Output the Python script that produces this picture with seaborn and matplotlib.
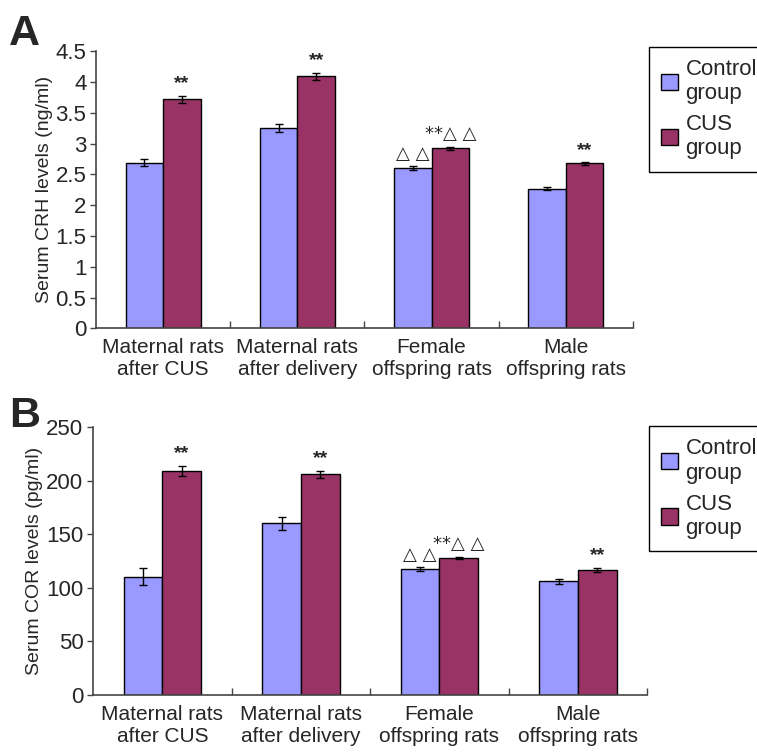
import numpy as np
import pandas as pd
import matplotlib
matplotlib.use("Agg")
import matplotlib.pyplot as plt
import seaborn as sns

sns.set_style("ticks")
plt.rcParams["font.family"] = ["Liberation Sans", "DejaVu Sans"]

categories = ["Maternal rats\nafter CUS", "Maternal rats\nafter delivery",
              "Female\noffspring rats", "Male\noffspring rats"]
groups = ["Control\ngroup", "CUS\ngroup"]

crh_control = [2.69, 3.25, 2.60, 2.27]
crh_cus = [3.72, 4.09, 2.92, 2.68]
crh_control_err = [0.06, 0.06, 0.03, 0.03]
crh_cus_err = [0.06, 0.06, 0.03, 0.02]
crh_control_note = ["", "", "\u25b3 \u25b3", ""]
crh_cus_note = ["**", "**", "**\u25b3 \u25b3", "**"]

cor_control = [110.5, 160.0, 117.6, 106.0]
cor_cus = [209.0, 205.7, 128.0, 116.7]
cor_control_err = [7.5, 6.0, 2.0, 2.5]
cor_cus_err = [5.0, 3.5, 1.0, 2.0]
cor_control_note = ["", "", "\u25b3 \u25b3", ""]
cor_cus_note = ["**", "**", "**\u25b3 \u25b3", "**"]

COLORS = ["#9999FF", "#993366"]


def panel(ax, ctrl, cus, ctrl_err, cus_err, ctrl_note, cus_note,
          ylim, yticks, ylabel):
    df = pd.DataFrame({
        "cat": categories * 2,
        "group": [groups[0]] * 4 + [groups[1]] * 4,
        "value": ctrl + cus,
    })
    sns.barplot(data=df, x="cat", y="value", hue="group", order=categories,
                hue_order=groups, palette=COLORS, width=0.56, gap=0,
                errorbar=None, edgecolor="black", linewidth=1.0, ax=ax,
                saturation=1)
    errs = ctrl_err + cus_err
    notes = ctrl_note + cus_note
    vals = ctrl + cus
    for p, v, e, n in zip(ax.patches[:8], vals, errs, notes):
        xc = p.get_x() + p.get_width() / 2
        ax.errorbar(xc, v, yerr=e, fmt="none", ecolor="black", elinewidth=1,
                    capsize=3, capthick=1)
        if n:
            ax.text(xc, v + e + (ylim[1] * 0.012), n, ha="center", va="bottom",
                    fontsize=14 if n == "**" else 13,
                    fontweight="bold" if n == "**" else "normal",
                    family=["DejaVu Sans"] if "\u25b3" in n else None)
    ax.set_xlim(-0.5, 3.5)
    ax.set_ylim(*ylim)
    ax.set_yticks(yticks)
    ax.set_yticklabels([f"{t:g}" for t in yticks], fontsize=16)
    ax.set_xlabel("")
    ax.set_ylabel(ylabel, fontsize=14, labelpad=2)
    ax.tick_params(axis="x", which="major", length=0, pad=7, labelsize=15)
    ax.set_xticks([0.5, 1.5, 2.5, 3.5], minor=True)
    ax.tick_params(axis="x", which="minor", direction="in", length=5,
                   width=1, color="#444444")
    ax.tick_params(axis="y", direction="out", length=4, width=1,
                   color="#444444", pad=3)
    sns.despine(ax=ax)
    for s in ("left", "bottom"):
        ax.spines[s].set_color("#444444")
        ax.spines[s].set_linewidth(1.2)
    ax.get_legend().remove()
    return ax


fig = plt.figure(figsize=(7.57, 7.53), dpi=100)
axA = fig.add_axes([0.127, 0.564, 0.709, 0.368])
axB = fig.add_axes([0.123, 0.077, 0.732, 0.356])

panel(axA, crh_control, crh_cus, crh_control_err, crh_cus_err,
      crh_control_note, crh_cus_note, (0, 4.5),
      [0, 0.5, 1, 1.5, 2, 2.5, 3, 3.5, 4, 4.5],
      "Serum CRH levels (ng/ml)")
panel(axB, cor_control, cor_cus, cor_control_err, cor_cus_err,
      cor_control_note, cor_cus_note, (0, 250),
      [0, 50, 100, 150, 200, 250],
      "Serum COR levels (pg/ml)")

fig.text(0.012, 0.982, "A", fontsize=31, fontweight="bold", va="top")
fig.text(0.012, 0.474, "B", fontsize=31, fontweight="bold", va="top")

for y in (0.938, 0.434):
    handles = [plt.Rectangle((0, 0), 1, 1, facecolor=c, edgecolor="black",
                             linewidth=1) for c in COLORS]
    fig.legend(handles, groups, loc="upper left", bbox_to_anchor=(0.857, y),
               borderaxespad=0, fontsize=16, frameon=True, fancybox=False,
               edgecolor="black", handlelength=0.75, handleheight=0.75,
               handletextpad=0.35, borderpad=0.55, labelspacing=0.45,
               framealpha=1)

fig.savefig("out.png", dpi=100)
